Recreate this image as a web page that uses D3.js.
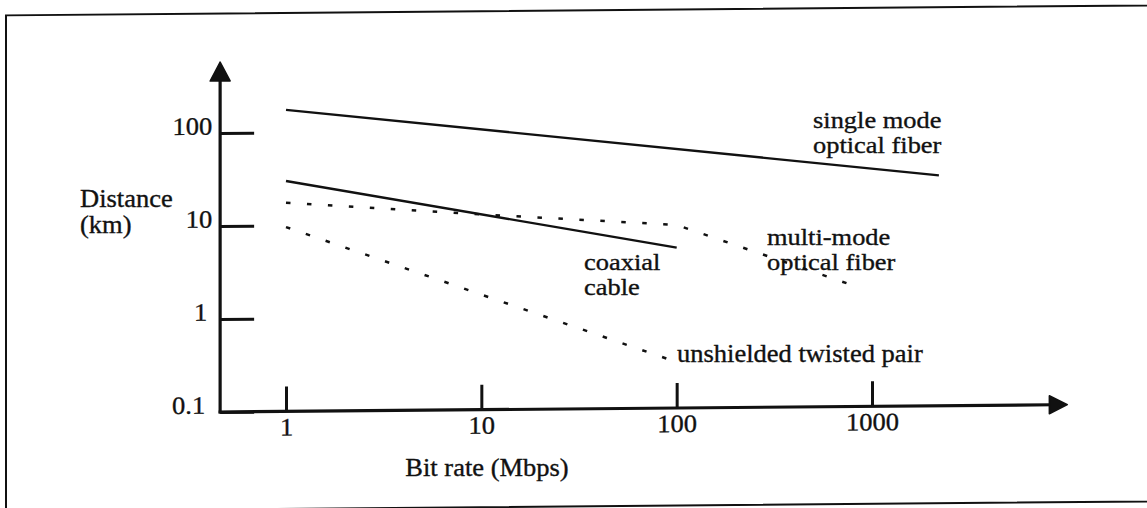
<!DOCTYPE html>
<html><head><meta charset="utf-8">
<script src="https://cdn.jsdelivr.net/npm/d3@7"></script>
<style>html,body{margin:0;padding:0;background:#fff;} svg{display:block;}</style>
</head><body>
<svg id="chart" width="1147" height="508"></svg>
<script>
// ---- data ----
const xTickValues = [1, 10, 100, 1000];
const xTickLabels = ["1", "10", "100", "1000"];
const yTickValues = [0.1, 1, 10, 100];
const yTickLabels = ["0.1", "1", "10", "100"];
const singleModeFiber = [[1, 175], [2200, 30]];
const coaxialCable = [[1, 30], [100, 5.3]];
const multiModeFiber = [[1, 17.5], [10, 12.6], [100, 9.3], [830, 1.95]];
const unshieldedTwistedPair = [[1, 9.6], [89, 0.34]];
const xAxisTitle = "Bit rate (Mbps)";
const yAxisTitle = ["Distance", "(km)"];
const singleModeLabel = ["single mode", "optical fiber"];
const multiModeLabel = ["multi-mode", "optical fiber"];
const coaxLabel = ["coaxial", "cable"];
const utpLabel = ["unshielded twisted pair"];
const xAxisEnds = [0.46, 10000];
const yAxisEnds = [0.1, 580];

// ---- setup ----
const FONT = "'Liberation Serif','Times New Roman',serif";
const FS = 25, SX = 1.06;
const svg = d3.select("#chart");
const x = d3.scaleLog().domain([1, 1000]).range([286, 872]);
const y = d3.scaleLog().domain([0.1, 100]).range([412, 133]);
const ox = x(xAxisEnds[0]), oy = y(yAxisEnds[0]);

const g = svg.append("g")
  .attr("transform", `translate(${ox},${oy}) skewY(-0.5) translate(${-ox},${-oy})`);

// frame
g.append("rect").attr("x", 6).attr("y", 13.5).attr("width", 1400).attr("height", 496)
  .attr("fill", "none").attr("stroke", "#111").attr("stroke-width", 2);

function styleText(sel, tx, ty, anchor, fs, sx) {
  sel.attr("font-family", FONT).attr("font-size", fs || FS).attr("fill", "#111")
     .attr("stroke", "#111").attr("stroke-width", 0.35)
     .attr("text-anchor", anchor)
     .attr("transform", `translate(${tx},${ty}) scale(${sx || SX},1)`);
}

// y axis ticks
const yAxis = d3.axisLeft(y).tickValues(yTickValues).tickSize(-34).tickSizeOuter(0)
  .tickFormat((d, i) => yTickLabels[i]);
const gy = g.append("g").attr("transform", `translate(${ox},0)`).call(yAxis);
gy.select(".domain").remove();
gy.selectAll(".tick line").attr("stroke", "#111").attr("stroke-width", 3);
gy.selectAll(".tick text").each(function (d) {
  const t = d3.select(this);
  t.attr("x", null).attr("y", null).attr("dy", null);
  styleText(t, d === 0.1 ? -15 : (d === 1 ? -13 : -8), 1, "end");
});

// x axis ticks
const xAxis = d3.axisBottom(x).tickValues(xTickValues).tickSize(-25).tickSizeOuter(0)
  .tickFormat((d, i) => xTickLabels[i]);
const gx = g.append("g").attr("transform", `translate(0,${oy})`).call(xAxis);
gx.select(".domain").remove();
gx.selectAll(".tick line").attr("stroke", "#111").attr("stroke-width", 3);
gx.selectAll(".tick text").each(function () {
  const t = d3.select(this);
  t.attr("x", null).attr("y", null).attr("dy", null);
  styleText(t, 0, 24, "middle");
});

// axis lines with arrows
const yTop = y(yAxisEnds[1]), xRight = x(xAxisEnds[1]);
g.append("line").attr("x1", ox).attr("y1", oy + 1.5).attr("x2", ox).attr("y2", yTop + 14)
  .attr("stroke", "#111").attr("stroke-width", 3.2);
g.append("path").attr("d", `M${ox},${yTop} L${ox - 10},${yTop + 19} L${ox + 10},${yTop + 19} Z`)
  .attr("fill", "#111").attr("stroke", "#111").attr("stroke-width", 1.5).attr("stroke-linejoin", "round");
g.append("line").attr("x1", ox - 1.5).attr("y1", oy).attr("x2", xRight - 14).attr("y2", oy)
  .attr("stroke", "#111").attr("stroke-width", 3.2);
g.append("path").attr("d", `M${xRight},${oy} L${xRight - 18},${oy - 9} L${xRight - 18},${oy + 9} Z`)
  .attr("fill", "#111").attr("stroke", "#111").attr("stroke-width", 1.5).attr("stroke-linejoin", "round");

// series
const line = d3.line().x(d => x(d[0])).y(d => y(d[1]));
const series = [
  { data: singleModeFiber, dash: null },
  { data: coaxialCable, dash: null },
  { data: multiModeFiber, dash: "4.5,16.5" },
  { data: unshieldedTwistedPair, dash: "4.5,16.5" }
];
g.selectAll("path.series").data(series).enter().append("path")
  .attr("class", "series")
  .attr("d", d => line(d.data))
  .attr("fill", "none").attr("stroke", "#111")
  .attr("stroke-width", d => d.dash ? 2.5 : 2.4)
  .attr("stroke-dasharray", d => d.dash);

// annotations (image coordinates)
const ann = svg.append("g");
function addLabel(lines, tx, ty, step, anchor, fs, sx) {
  lines.forEach((s, i) => {
    const t = ann.append("text").text(s);
    styleText(t, tx, ty + i * step, anchor, fs, sx);
  });
}
addLabel(yAxisTitle, 80, 207, 26, "start");
addLabel([xAxisTitle], 487, 476, 0, "middle");
addLabel(singleModeLabel, 813, 128, 24.5, "start", 23.5, 1.125);
addLabel(multiModeLabel, 767, 245, 24.5, "start", 23.5, 1.125);
addLabel(coaxLabel, 584, 270, 24.5, "start", 23.5, 1.125);
addLabel(utpLabel, 677, 362, 0, "start");
</script>
</body></html>
